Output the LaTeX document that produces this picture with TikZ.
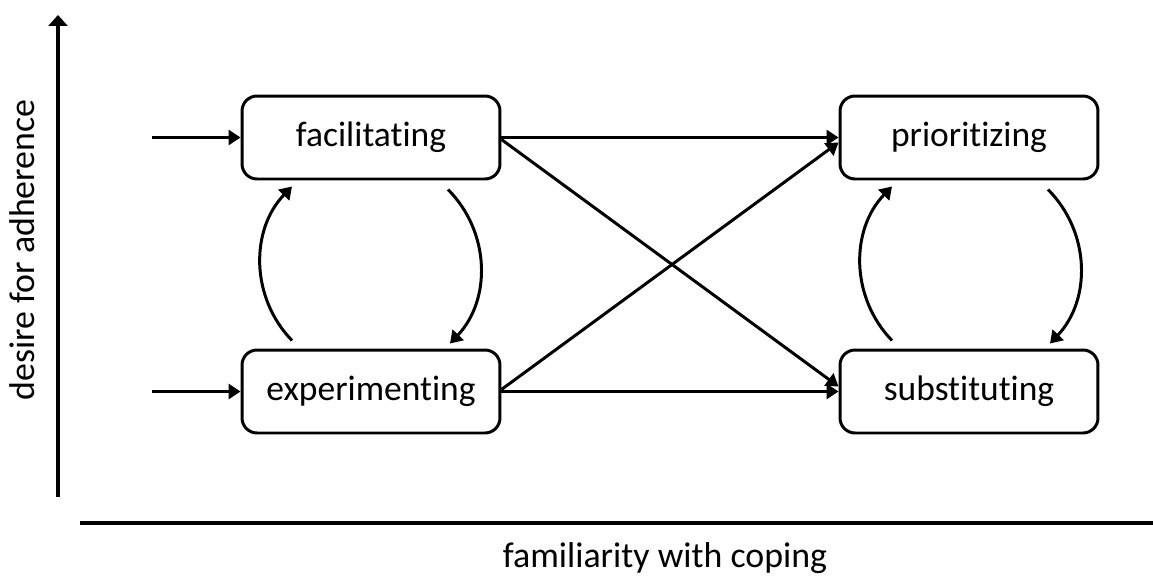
\documentclass[tikz,border=0pt]{standalone}
\usepackage{fontspec}
\setmainfont{Carlito}[Ligatures={NoCommon}]
\usepackage{tikz}
\usetikzlibrary{arrows.meta, positioning}

\tikzset{
    stage/.style={draw, thick, line width=1.7pt, rounded corners=0.3cm,
        minimum width=5.16cm, minimum height=1.66cm, inner sep=0pt,
        font=\fontsize{20.2}{24}\selectfont},
    flow/.style={line width=1.7pt, -{Triangle[length=0.24cm, width=0.3cm]}},
    axis/.style={line width=2.2pt},
    axislabel/.style={font=\fontsize{20.4}{24}\selectfont}
}

\begin{document}
\begin{tikzpicture}[x=0.02cm, y=0.02cm]
    \useasboundingbox (0,0) rectangle (1153,576);

    % 坐标轴
    \coordinate (ybot) at (58,79);
    \coordinate (ytop) at (58,561);
    \coordinate (xleft) at (80,53);
    \coordinate (xright) at (1153,53);
    \draw[axis, -{Triangle[length=0.22cm, width=0.38cm]}] (ybot) -- (ytop);
    \draw[axis] (xleft) -- (xright);
    \node[axislabel, rotate=90] (ylab) at (22,326) {desire for adherence};
    \node[axislabel] (xlab) at (665,18) {familiarity with coping};

    % 四个阶段
    \node[stage] (fac) at (371,438.5) {facilitating};
    \node[stage] (exp) at (371,184.5) {experimenting};
    \node[stage] (pri) at (969,438.5) {prioritizing};
    \node[stage] (sub) at (969,184.5) {substituting};

    % 入口
    \coordinate (in1) at (152,438.5);
    \coordinate (in2) at (152,184.5);
    \draw[flow] (in1) -- (fac.west);
    \draw[flow] (in2) -- (exp.west);

    % 直线与交叉
    \draw[flow] (fac.east) -- (pri.west);
    \draw[flow] (exp.east) -- (sub.west);
    \draw[flow] ([shift={(0,-2)}]fac.east) -- ([shift={(0,5)}]sub.west);
    \draw[flow] ([shift={(0,2)}]exp.east) -- ([shift={(0,-5)}]pri.west);

    % 循环
    \draw[flow] ([shift={(-79,8)}]exp.north) to[bend left=44] ([shift={(-79,-6)}]fac.south);
    \draw[flow] ([shift={(77,-9)}]fac.south) to[bend left=44] ([shift={(79,5)}]exp.north);
    \draw[flow] ([shift={(-77,8)}]sub.north) to[bend left=44] ([shift={(-77,-6)}]pri.south);
    \draw[flow] ([shift={(79,-9)}]pri.south) to[bend left=44] ([shift={(81,5)}]sub.north);
\end{tikzpicture}
\end{document}
